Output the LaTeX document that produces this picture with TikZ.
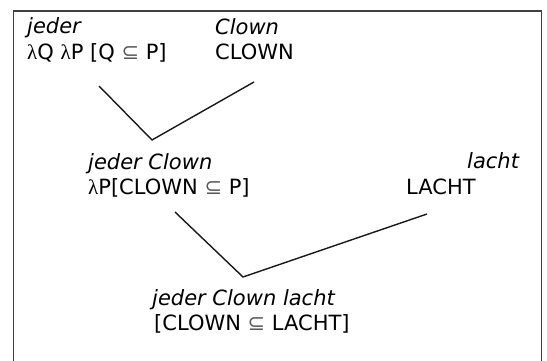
\documentclass[tikz,border=0pt]{standalone}
\usepackage{fontspec}
\setmainfont{DejaVu Sans}
\newfontfamily\lamfont{Liberation Serif}
\newcommand{\lam}{{\lamfont λ}}
\newcommand{\sbs}{\textcolor{black!65}{⊆}}
\begin{document}
\begin{tikzpicture}[x=1pt,y=-1pt,
  txt/.style={anchor=base west,inner sep=0pt,font=\fontsize{21}{25}\selectfont},
  word/.style={txt,font=\fontsize{21}{25}\selectfont\itshape},
  branch/.style={line width=1.4pt,black!90},
  frame/.style={line width=1.5pt,black!75}]
\useasboundingbox (0,0) rectangle (547,361);
\draw[frame] (13.5,361) -- (13.5,11) -- (541.5,11) -- (541.5,361);
% top level
\node[word] (w1) at (27,34) {jeder};
\node[txt]  (m1) at (27,60) {\lam Q \lam P [Q \sbs{} P]};
\node[word] (w2) at (215,35) {Clown};
\node[txt]  (m2) at (215,60) {CLOWN};
% middle
\node[word] (w3) at (88,169) {jeder Clown};
\node[txt]  (m3) at (88,194) {\lam P[CLOWN \sbs{} P]};
\node[word] (w4) at (467,168) {lacht};
\node[txt]  (m4) at (406,194) {LACHT};
% bottom
\node[word] (w5) at (152,305) {jeder Clown lacht};
\node[txt]  (m5) at (154,330) {[CLOWN \sbs{} LACHT]};
% branches
\coordinate (a1) at (99,86);
\coordinate (b1) at (254,82);
\coordinate (j1) at (152,140);
\coordinate (a2) at (175,212);
\coordinate (b2) at (427,214);
\coordinate (j2) at (243,277);
\draw[branch] (a1) -- (j1) -- (b1);
\draw[branch] (a2) -- (j2) -- (b2);
\end{tikzpicture}
\end{document}
